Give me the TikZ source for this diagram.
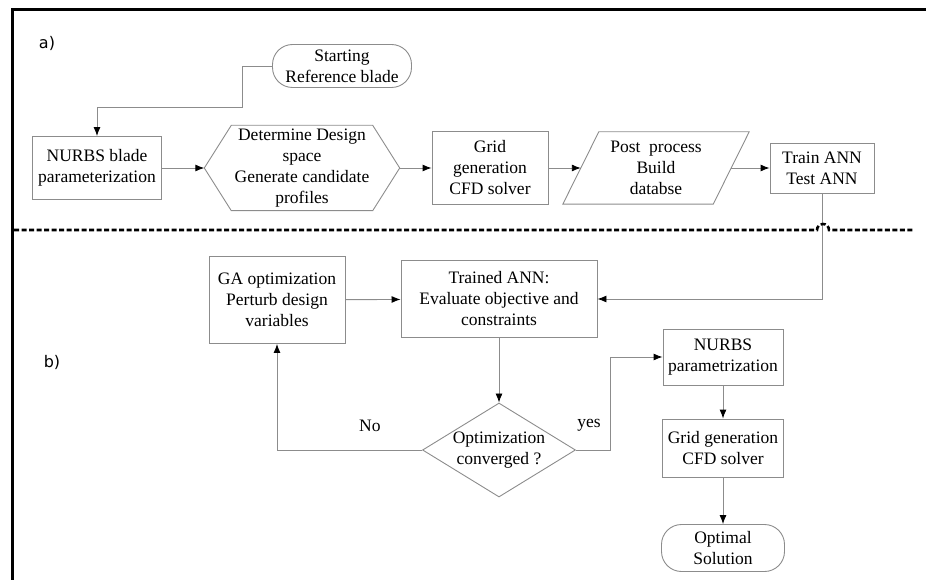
\documentclass[tikz,border=0pt]{standalone}
\usepackage{fontspec}
\setmainfont{Liberation Serif}
\newfontfamily\tagfont{DejaVu Sans}
\usetikzlibrary{arrows.meta,positioning,shapes.geometric,calc}

\definecolor{boxgray}{RGB}{140,140,140}

\begin{document}
\begin{tikzpicture}[x=1pt,y=1pt,->,>={Latex[length=9pt,width=7pt,black]},
		flow/.style={draw=boxgray,line width=0.9pt},
		font=\fontsize{17.5}{21}\selectfont]
		\tikzstyle{block}=[draw=boxgray,line width=0.9pt,rectangle,align=center,inner sep=2pt]
		\tikzstyle{term}=[block,rounded corners=20pt]
		\tikzstyle{plain}=[rectangle,align=center,inner sep=0pt]
		\useasboundingbox (0,0) rectangle (926,-580);
		
		% a) building the database
		\node[term,minimum width=139pt,minimum height=43pt]  (Start) at (342,-66) {Starting\\Reference blade};
		\node[block,minimum width=129pt,minimum height=63pt] (Nurbs) at (97,-168) {NURBS blade\\parameterization};
		\node[plain,minimum width=195pt,minimum height=85pt] (Space) [right of=Nurbs,node distance=205pt] {Determine Design\\space\\Generate candidate\\profiles};
		\node[block,minimum width=116pt,minimum height=73pt] (Grid)  [right of=Space,node distance=188pt] {Grid\\generation\\CFD solver};
		\node[plain,minimum width=150pt,minimum height=72pt] (Post)  [right of=Grid,node distance=166pt] {Post\ \ process\\Build\\databse};
		\node[block,minimum width=104pt,minimum height=50pt] (Train) [right of=Post,node distance=166pt] {Train ANN\\Test ANN};
		
		\draw[-,draw=boxgray,line width=0.9pt] ($(Space.north west)+(27,0)$) -- ($(Space.north east)+(-27,0)$)
		-- (Space.east) -- ($(Space.south east)+(-27,0)$) -- ($(Space.south west)+(27,0)$) -- (Space.west) -- cycle;
		\draw[-,draw=boxgray,line width=0.9pt] ($(Post.south west)+(-18,0)$) -- ($(Post.north west)+(18,0)$)
		-- ($(Post.north east)+(18,0)$) -- ($(Post.south east)+(-18,0)$) -- cycle;
		
		\draw[flow] (Start.west) -| ++(-30,-41) -| (Nurbs.north);
		\draw[flow] (Nurbs) -- (Space);
		\draw[flow] (Space) -- (Grid);
		\draw[flow] (Grid) -- (Post);
		\draw[flow] (Post) -- (Train);
		
		% b) optimization loop
		\node[block,minimum width=136pt,minimum height=87pt] (GA)      at (277,-300) {GA optimization\\Perturb design\\variables};
		\node[block,minimum width=196pt,minimum height=77pt] (Trained) at (499,-299) {Trained ANN:\\Evaluate objective and\\constraints};
		\node[diamond,draw=boxgray,line width=0.9pt,align=center,inner sep=0pt,aspect=1.63,
		minimum width=153pt,minimum height=94pt] (Conv) at (499,-450) {Optimization\\converged ?};
		\node[block,minimum width=120pt,minimum height=56pt] (NurbsB) at (723,-357) {NURBS\\parametrization};
		\node[block,minimum width=121pt,minimum height=58pt] (GridB)  [below of=NurbsB,node distance=91pt] {Grid generation\\CFD solver};
		\node[term,minimum width=123pt,minimum height=47pt]  (Optimal) [below of=GridB,node distance=100pt] {Optimal\\Solution};
		
		\draw[flow] (Train.south) |- (Trained.east);
		\draw[flow] (GA) -- (Trained);
		\draw[flow] (Trained) -- (Conv);
		\draw[flow] (Conv.west) -| node[pos=0.18,above=15pt,draw=none,text=black]{No} (GA.south);
		\draw[flow] (Conv.east) -- node[midway,above=15pt,xshift=-4pt]{yes} ++(34,0) |- (NurbsB.west);
		\draw[flow] (NurbsB) -- (GridB);
		\draw[flow] (GridB) -- (Optimal);
		
		% frame and separator
		\draw[-,line width=3pt] (12,-580) -- (12,-10) -- (926,-10);
		\draw[-,line width=2.6pt,dash pattern=on 5pt off 2.5pt] (14,-230) -- (817,-230) arc (180:0:6) -- (914,-230);
		\node[plain] (TagA) at (47,-43) {\tagfont\fontsize{16}{18}\selectfont a)};
		\node[plain] (TagB) at (52,-362) {\tagfont\fontsize{16}{18}\selectfont b)};
		\end{tikzpicture}
\end{document}
